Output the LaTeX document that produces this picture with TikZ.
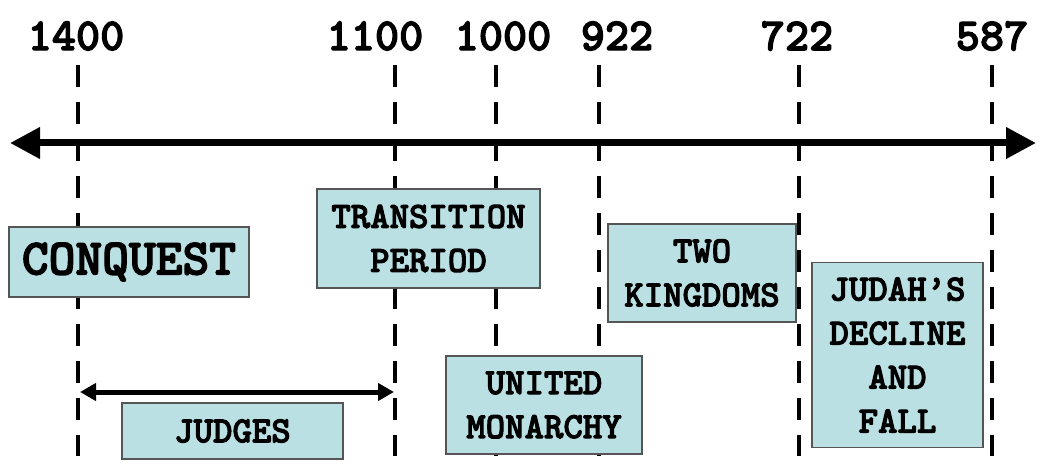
\documentclass[tikz,border=0pt]{standalone}
\usepackage{fontspec}
\newfontfamily\tw{lmmonolt10-bold.otf}[FakeBold=2.6]
\usetikzlibrary{arrows.meta}
\definecolor{boxfill}{HTML}{BAE0E3}
\definecolor{boxline}{HTML}{555555}
\tikzset{
  x=1pt, y=-1pt,
  era/.style={draw=boxline, line width=1.2pt, fill=boxfill, inner sep=0pt, align=center,
    font=\tw\fontsize{37}{44}\selectfont},
  year/.style={inner sep=0pt, font=\tw\fontsize{46}{46}\selectfont},
  guide/.style={line width=4.5pt, dash pattern=on 22pt off 15pt},
  axis/.style={line width=7pt, {Triangle[length=30pt,width=30pt]}-{Triangle[length=30pt,width=30pt]}},
  span/.style={line width=5pt, {Triangle[length=16pt,width=17pt]}-{Triangle[length=16pt,width=17pt]}}
}
\begin{document}
\begin{tikzpicture}
\useasboundingbox (0,0) rectangle (1040,470);
% year labels
\node[year] (y1400) at (76,36) {1400};
\node[year] (y1100) at (375,36) {1100};
\node[year] (y1000) at (503,36) {1000};
\node[year] (y922) at (617,36) {922};
\node[year] (y722) at (797,36) {722};
\node[year] (y587) at (992,36) {587};
% guide lines
\foreach \n/\x in {a/78,b/395,c/496,d/599,e/799,f/992}{
  \coordinate (\n top) at (\x,65);
  \coordinate (\n bot) at (\x,456);
  \draw[guide] (\n top) -- (\n bot);
}
% axis
\coordinate (axL) at (10,143);
\coordinate (axR) at (1036,143);
\draw[axis] (axL) -- (axR);
% boxes
\node[era, minimum width=240pt, minimum height=70pt, font=\tw\fontsize{51}{51}\selectfont] (conquest) at (129,262) {CONQUEST};
\node[era, minimum width=223pt, minimum height=99pt] (transition) at (428.5,238.5) {TRANSITION\\PERIOD};
\node[era, minimum width=188pt, minimum height=98pt] (two) at (702,273) {TWO\\KINGDOMS};
\node[era, minimum width=196pt, minimum height=98pt] (united) at (544,405) {UNITED\\MONARCHY};
\node[era, minimum width=221pt, minimum height=56pt] (judges) at (232.5,431) {JUDGES};
\node[era, minimum width=171pt, minimum height=185pt] (judah) at (897.5,355) {JUDAH’S\\DECLINE\\AND\\FALL};
% judges span
\coordinate (jL) at (80,392);
\coordinate (jR) at (394,392);
\draw[span] (jL) -- (jR);
\end{tikzpicture}
\end{document}
